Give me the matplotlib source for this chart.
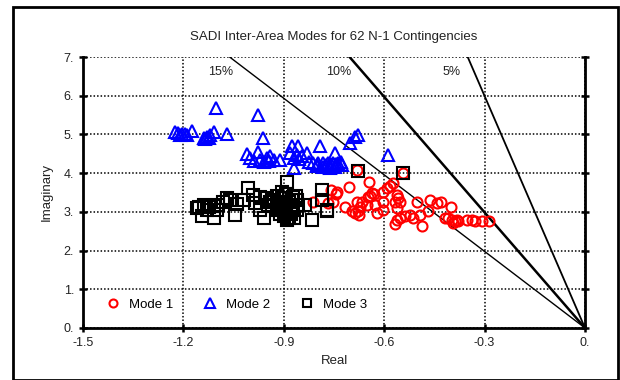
import matplotlib
matplotlib.use('Agg')
import matplotlib.pyplot as plt
import numpy as np
from matplotlib.patches import Rectangle
from matplotlib.ticker import FuncFormatter

plt.rcParams['font.family'] = ['Liberation Sans', 'DejaVu Sans']

title = 'SADI Inter-Area Modes for 62 N-1 Contingencies'

# Mode 1 eigenvalues (real, imaginary)
mode1_re = [-0.680, -0.545, -0.759, -0.744, -0.740, -0.752, -0.767, -0.705,
            -0.645, -0.575, -0.583, -0.593, -0.605, -0.637, -0.642, -0.632,
            -0.647, -0.682, -0.667, -0.672, -0.677, -0.674, -0.687, -0.697,
            -0.717, -0.652, -0.627, -0.622, -0.605, -0.605, -0.563, -0.558,
            -0.568, -0.553, -0.563, -0.503, -0.563, -0.553, -0.568, -0.538,
            -0.523, -0.513, -0.493, -0.463, -0.443, -0.431, -0.468, -0.486,
            -0.401, -0.418, -0.408, -0.398, -0.388, -0.383, -0.393, -0.379,
            -0.353, -0.339, -0.329, -0.309, -0.287, -0.812]
mode1_im = [4.07, 4.01, 3.57, 3.46, 3.52, 3.26, 3.22, 3.63,
            3.78, 3.75, 3.67, 3.61, 3.52, 3.48, 3.41, 3.46,
            3.39, 3.26, 3.26, 3.13, 3.01, 2.92, 2.98, 3.01,
            3.12, 3.18, 3.18, 2.96, 3.26, 3.05, 3.44, 3.35,
            3.26, 3.26, 3.09, 3.26, 2.79, 2.83, 2.69, 2.88,
            2.92, 2.83, 2.92, 3.31, 3.22, 3.26, 3.01, 2.64,
            3.12, 2.83, 2.83, 2.79, 2.75, 2.79, 2.70, 2.77,
            2.79, 2.79, 2.75, 2.75, 2.75, 3.26]

# Mode 2 eigenvalues
mode2_re = [-1.103, -0.976, -1.225, -1.215, -1.205, -1.190, -1.175, -1.210,
            -1.195, -1.140, -1.130, -1.120, -1.110, -1.135, -1.125, -1.069,
            -0.961, -1.011, -0.976, -1.000, -0.970, -0.950, -0.940, -0.930,
            -0.990, -0.960, -0.945, -0.876, -0.857, -0.881, -0.861, -0.846,
            -0.832, -0.870, -0.792, -0.747, -0.870, -0.855, -0.812, -0.797,
            -0.782, -0.767, -0.752, -0.737, -0.727, -0.782, -0.762, -0.747,
            -0.800, -0.775, -0.755, -0.740, -0.702, -0.687, -0.677, -0.588,
            -0.730, -0.825, -0.910, -0.800, -0.765, -0.745]
mode2_im = [5.67, 5.49, 5.07, 5.03, 5.00, 4.99, 5.09, 4.98,
            5.02, 4.90, 4.94, 4.99, 5.06, 4.88, 4.92, 5.00,
            4.92, 4.49, 4.54, 4.38, 4.34, 4.38, 4.43, 4.34,
            4.32, 4.30, 4.32, 4.69, 4.70, 4.51, 4.47, 4.43,
            4.51, 4.13, 4.70, 4.51, 4.40, 4.36, 4.25, 4.25,
            4.25, 4.25, 4.25, 4.25, 4.22, 4.17, 4.13, 4.17,
            4.19, 4.20, 4.19, 4.20, 4.77, 4.94, 4.99, 4.47,
            4.30, 4.30, 4.35, 4.22, 4.18, 4.23]

# Mode 3 eigenvalues
mode3_re = [-1.155, -1.140, -1.125, -1.110, -1.096, -1.081, -1.061, -1.145,
            -1.110, -1.046, -1.130, -1.100, -1.160, -1.006, -0.991, -0.971,
            -0.951, -0.986, -0.946, -0.891, -0.872, -0.857, -0.837, -0.817,
            -0.787, -0.772, -0.930, -0.920, -0.910, -0.900, -0.895, -0.900,
            -0.890, -0.885, -0.875, -0.880, -0.860, -0.920, -0.935, -0.905,
            -0.895, -0.870, -0.910, -0.880, -0.865, -0.900, -0.677, -0.545,
            -0.970, -1.020, -0.960, -0.787, -0.772, -1.040, -1.070, -0.940,
            -0.915, -0.885, -0.905, -0.860, -0.895, -0.875]
mode3_im = [3.13, 3.18, 3.13, 3.16, 3.18, 3.26, 3.31, 2.88,
            2.83, 2.92, 3.05, 3.05, 3.10, 3.61, 3.44, 3.39,
            3.35, 3.22, 3.18, 3.78, 3.39, 3.18, 3.18, 2.79,
            3.31, 3.05, 3.30, 3.40, 3.20, 3.10, 3.00, 2.90,
            2.80, 3.25, 3.05, 2.95, 3.30, 3.05, 3.15, 3.35,
            3.45, 2.85, 2.95, 3.15, 3.40, 3.25, 4.06, 4.01,
            3.05, 3.30, 2.85, 3.57, 3.01, 3.20, 3.35, 3.25,
            3.10, 2.85, 3.50, 3.05, 3.15, 3.30]

damping = [0.15, 0.10, 0.05]
damping_labels = ['15%', '10%', '5%']
damping_lw = [1.0, 1.8, 1.3]
damping_label_x = [-1.09, -0.735, -0.40]

fig = plt.figure(figsize=(6.2, 3.8), dpi=100)
ax = fig.add_axes([0.134, 0.137, 0.8095, 0.713])

# constant damping ratio lines through the origin
ytop = 7.0
for z, lw in zip(damping, damping_lw):
    xtop = -z / np.sqrt(1 - z ** 2) * ytop
    ax.plot([0, xtop], [0, ytop], color='black', lw=lw, zorder=2)
for lab, xl in zip(damping_labels, damping_label_x):
    ax.text(xl, 6.6, lab, ha='center', va='center', fontsize=9, color='#222222')

mk = dict(ls='none', mfc='none', mew=1.5, zorder=3)
ax.plot(mode1_re, mode1_im, marker='o', ms=7.2, mec='red', label='Mode 1', **mk)
ax.plot(mode2_re, mode2_im, marker='^', ms=8.5, mec='blue', label='Mode 2', **mk)
ax.plot(mode3_re, mode3_im, marker='s', ms=8, mec='black', label='Mode 3', **mk)

ax.set_xlim(-1.5, 0)
ax.set_ylim(0, 7)
ax.set_xticks([-1.5, -1.2, -0.9, -0.6, -0.3, 0])
ax.set_yticks(range(8))


def fmt(v, pos):
    # Excel-style labels: "0.", "7.", "-1.5"
    s = '%.1f' % v
    if s in ('0.0', '-0.0'):
        return '0.'
    if s.endswith('.0'):
        s = s[:-1]
    return s


ax.xaxis.set_major_formatter(FuncFormatter(fmt))
ax.yaxis.set_major_formatter(FuncFormatter(fmt))
ax.tick_params(direction='inout', length=6, width=1.8, labelsize=9,
               colors='black', labelcolor='#222222', right=True)
ax.tick_params(axis='y', labelright=False)
ax.grid(True, color='black', ls=(0, (1, 1.3)), lw=1.1)
ax.set_axisbelow(True)
ax.spines['top'].set_visible(False)
for s in ['left', 'right', 'bottom']:
    ax.spines[s].set_linewidth(2)

ax.set_title(title, fontsize=9.5, color='#222222', pad=12)
ax.set_xlabel('Real', fontsize=9.5, color='#222222', labelpad=4)
ax.set_ylabel('Imaginary', fontsize=9.5, color='#222222', labelpad=8)

ax.legend(loc='lower left', bbox_to_anchor=(0.02, 0.02), ncol=3, frameon=False,
          fontsize=9.5, handletextpad=0.6, columnspacing=2.2, markerscale=0.8,
          handlelength=1.2)

fig.patches.append(Rectangle((0.021, 0.0), 0.975, 0.982, transform=fig.transFigure,
                             fill=False, ec='black', lw=2))

fig.savefig('out.png', dpi=100)
